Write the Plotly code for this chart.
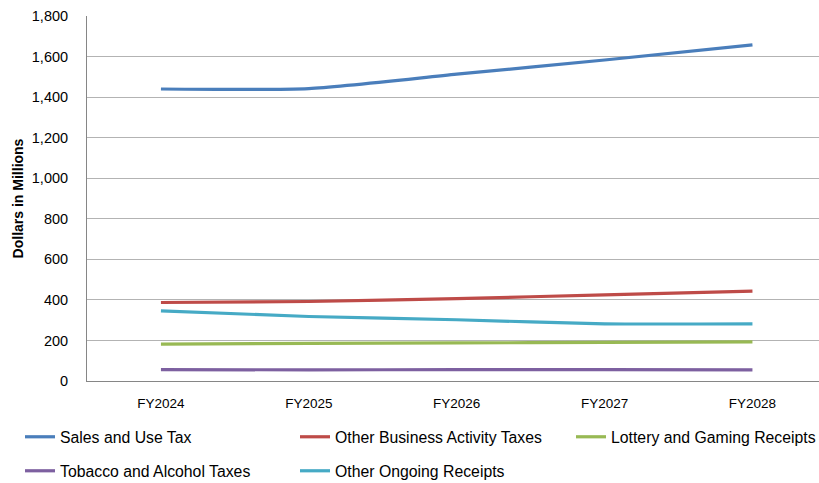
import plotly.graph_objects as go

years = ["FY2024", "FY2025", "FY2026", "FY2027", "FY2028"]
sales_use = [1440, 1442, 1513, 1583, 1658]
other_business = [387, 392, 406, 425, 443]
lottery = [182, 186, 188, 190, 193]
tobacco = [56, 55, 56, 56, 55]
other_ongoing = [346, 318, 302, 282, 282]

# name, values, colour, legend id, legend left (px), legend row centre (px)
series = [
    ("Sales and Use Tax", sales_use, "#4A7EBB", "legend", 20, 437),
    ("Other Business Activity Taxes", other_business, "#BE4B48", "legend2", 295, 437),
    ("Lottery and Gaming Receipts", lottery, "#98B954", "legend3", 571, 437),
    ("Tobacco and Alcohol Taxes", tobacco, "#7D60A0", "legend4", 20, 471),
    ("Other Ongoing Receipts", other_ongoing, "#46AAC5", "legend5", 295, 471),
]

FONT = "'Liberation Sans', Arial, sans-serif"
PL, PR, PT, PB = 87, 819, 16, 381  # plot area in px

fig = go.Figure()
legends = {}
for name, vals, color, lg, lx, ly in series:
    fig.add_trace(go.Scatter(
        x=years, y=vals, name=name, mode="lines",
        line=dict(color=color, width=3.2, shape="spline", smoothing=0.6),
        legend=lg,
    ))
    legends[lg] = dict(
        orientation="h", xanchor="left", yanchor="middle",
        x=(lx - PL) / (PR - PL), y=(PB - ly) / (PB - PT),
        font=dict(family=FONT, size=15.8, color="#000000"),
        bgcolor="rgba(0,0,0,0)", itemwidth=30,
    )

fig.update_layout(
    width=819, height=483,
    margin=dict(l=PL, r=819 - PR, t=PT, b=483 - PB, autoexpand=False),
    paper_bgcolor="white", plot_bgcolor="white",
    font=dict(family=FONT, size=14, color="#000000"),
    showlegend=True,
    **legends,
    xaxis=dict(
        type="category", range=[-0.5, 4.45],
        showline=True, linecolor="#868686", linewidth=1,
        showgrid=False, ticks="", ticklen=0, ticklabelstandoff=10,
        tickfont=dict(family=FONT, size=13.5),
        automargin=False, fixedrange=True,
    ),
    yaxis=dict(
        range=[0, 1800], dtick=200, tickformat=",d",
        showline=True, linecolor="#868686", linewidth=1,
        showgrid=True, gridcolor="#B3B3B3", gridwidth=1,
        zeroline=False, ticks="", ticklen=0, ticklabelstandoff=15,
        tickfont=dict(family=FONT, size=14.5),
        title=dict(text="<b>Dollars in Millions</b>", font=dict(family=FONT, size=14), standoff=4),
        automargin=False,
    ),
)

fig.write_html(
    "out.html",
    config={"displayModeBar": False},
    post_script="document.body.style.margin='0';document.body.style.overflow='hidden';",
)
